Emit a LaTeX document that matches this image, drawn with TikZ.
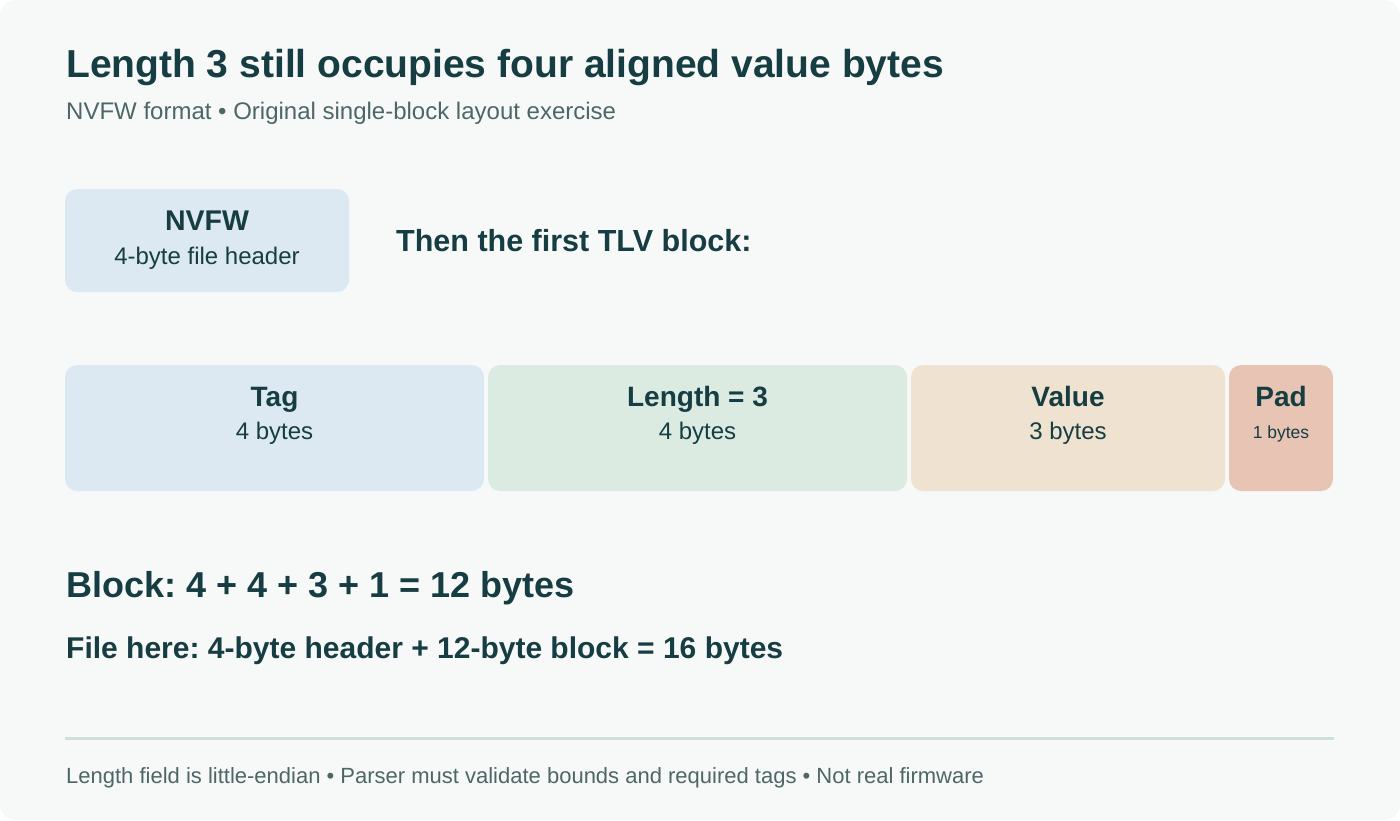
\documentclass[tikz,border=0pt]{standalone}
\usepackage{fontspec}
\setmainfont{Liberation Sans}
\frenchspacing
\definecolor{bg}{HTML}{F7F9F9}
\definecolor{ink}{HTML}{163D42}
\definecolor{muted}{HTML}{4D6666}
\definecolor{rule}{HTML}{CFDFDD}
\definecolor{cblue}{HTML}{DCE9F2}
\definecolor{cgreen}{HTML}{DCEBE2}
\definecolor{cbeige}{HTML}{EFE2D0}
\definecolor{cpink}{HTML}{E8C4B5}
\newcommand{\fs}[1]{\fontsize{#1}{#1}\selectfont}
\tikzset{
  txt/.style={anchor=base west, inner sep=0pt, text=ink},
  ctxt/.style={anchor=base, inner sep=0pt, text=ink},
  cell/.style={rounded corners=12pt, draw=none},
}
\begin{document}
\begin{tikzpicture}[x=1pt,y=-1pt]
\useasboundingbox (0,0) rectangle (1400,820);
\fill[white] (0,0) rectangle (1400,820);
\fill[bg, rounded corners=16pt] (0,0) rectangle (1400,820);

\node[txt, font=\bfseries\fs{39}] (title) at (66,77) {Length 3 still occupies four aligned value bytes};
\node[txt, text=muted, font=\fs{24}] (sub) at (66,119) {NVFW format • Original single-block layout exercise};

\fill[cblue, cell] (65,189) rectangle (349,292);
\node[ctxt, font=\bfseries\fs{28.5}] (nvfw) at (207,230) {NVFW};
\node[ctxt, font=\fs{24}] (nvfwsub) at (207,264) {4-byte file header};
\node[txt, font=\bfseries\fs{30.5}] (then) at (396,251) {Then the first TLV block:};

\fill[cblue, cell] (65,365) rectangle (484,491);
\fill[cgreen, cell] (488,365) rectangle (907,491);
\fill[cbeige, cell] (911,365) rectangle (1225,491);
\fill[cpink, cell] (1229,365) rectangle (1333,491);

\node[ctxt, font=\bfseries\fs{28}] (tag) at (274.5,406) {Tag};
\node[ctxt, font=\fs{24}] (tagsub) at (274.5,439) {4 bytes};
\node[ctxt, font=\bfseries\fs{28}] (len) at (697.5,406) {Length = 3};
\node[ctxt, font=\fs{24}] (lensub) at (697.5,439) {4 bytes};
\node[ctxt, font=\bfseries\fs{28}] (val) at (1068,406) {Value};
\node[ctxt, font=\fs{24}] (valsub) at (1068,439) {3 bytes};
\node[ctxt, font=\bfseries\fs{28}] (pad) at (1281,406) {Pad};
\node[ctxt, font=\fs{17.5}] (padsub) at (1281,438) {1 bytes};

\node[txt, font=\bfseries\fs{36}] (block) at (66,597) {Block: 4 + 4 + 3 + 1 = 12 bytes};
\node[txt, font=\bfseries\fs{30}] (file) at (66,658) {File here: 4-byte header + 12-byte block = 16 bytes};

\draw[rule, line width=3pt] (65,738) -- (1334,738);
\node[txt, text=muted, font=\fs{22}] (foot) at (66,783) {Length field is little-endian • Parser must validate bounds and required tags • Not real firmware};
\end{tikzpicture}
\end{document}
